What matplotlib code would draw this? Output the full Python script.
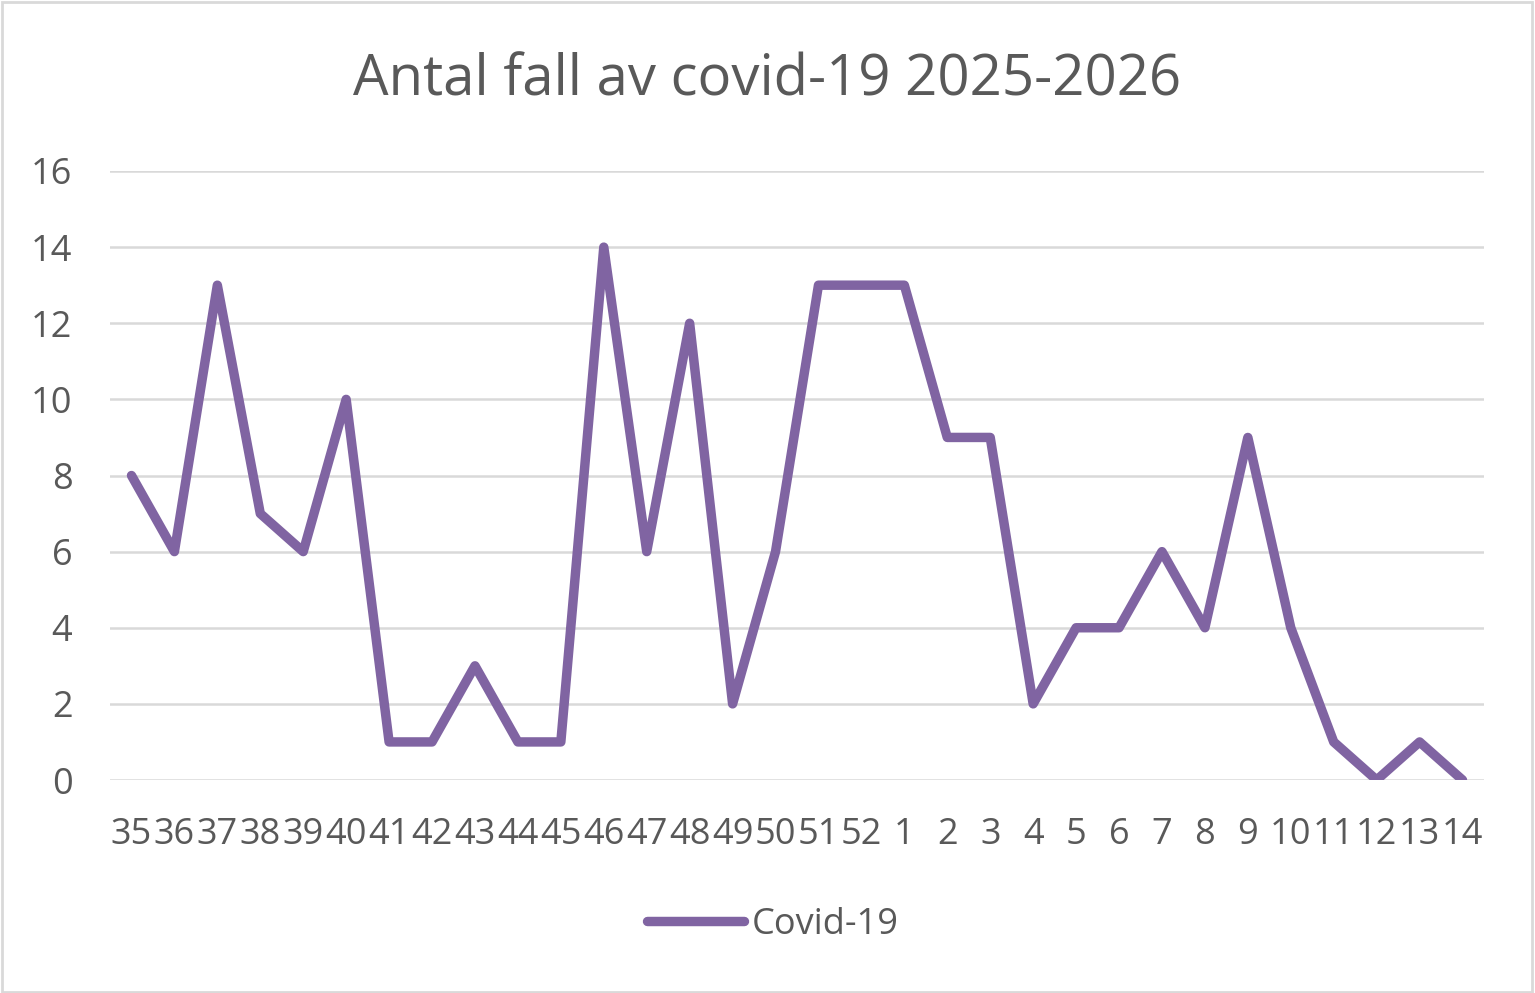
import matplotlib.pyplot as plt
from matplotlib.patches import Rectangle

plt.rcParams['font.family'] = ['Open Sans', 'DejaVu Sans']

# Week numbers and weekly counts
weeks = ['35', '36', '37', '38', '39', '40', '41', '42', '43', '44', '45', '46',
         '47', '48', '49', '50', '51', '52', '1', '2', '3', '4', '5', '6', '7',
         '8', '9', '10', '11', '12', '13', '14']
cases = [8, 6, 13, 7, 6, 10, 1, 1, 3, 1, 1, 14, 6, 12, 2, 6, 13, 13, 13, 9, 9,
         2, 4, 4, 6, 4, 9, 4, 1, 0, 1, 0]
yticks = [0, 2, 4, 6, 8, 10, 12, 14, 16]

text_col = '#595959'
grid_col = '#D9D9D9'
line_col = '#8064A2'

fig = plt.figure(figsize=(15.35, 9.93), dpi=100)
ax = fig.add_axes([110 / 1535, 1 - 780 / 993, 1374 / 1535, 609 / 993])

x = list(range(len(weeks)))
ax.plot(x, cases, color=line_col, lw=6.8, solid_joinstyle='round',
        solid_capstyle='round', label='Covid-19', zorder=3)

ax.set_xlim(-0.5, len(weeks) - 0.5)
ax.set_ylim(0, 16)
ax.set_yticks(yticks)
ax.set_xticks(x)
ax.set_xticklabels(weeks)
ax.grid(axis='y', color=grid_col, lw=1.8)
ax.set_axisbelow(True)
for s in ax.spines.values():
    s.set_visible(False)
ax.tick_params(length=0, labelsize=26, colors=text_col)
ax.tick_params(axis='y', pad=27)
ax.tick_params(axis='x', pad=27)

fig.text(0.5, 1 - 96 / 993, 'Antal fall av covid-19 2025-2026', ha='center',
         va='baseline', fontsize=40.5, color=text_col)

leg = ax.legend(loc='center', bbox_to_anchor=(0.5 + 5 / 1535, 1 - 925 / 993),
                bbox_transform=fig.transFigure, frameon=False, fontsize=26,
                handlelength=2.7, handletextpad=0.2)
for t in leg.get_texts():
    t.set_color(text_col)

fig.patches.append(Rectangle((0.001, 0.001), 0.997, 0.997, transform=fig.transFigure,
                             fill=False, edgecolor=grid_col, lw=2))

fig.savefig('out.png', dpi=100)
